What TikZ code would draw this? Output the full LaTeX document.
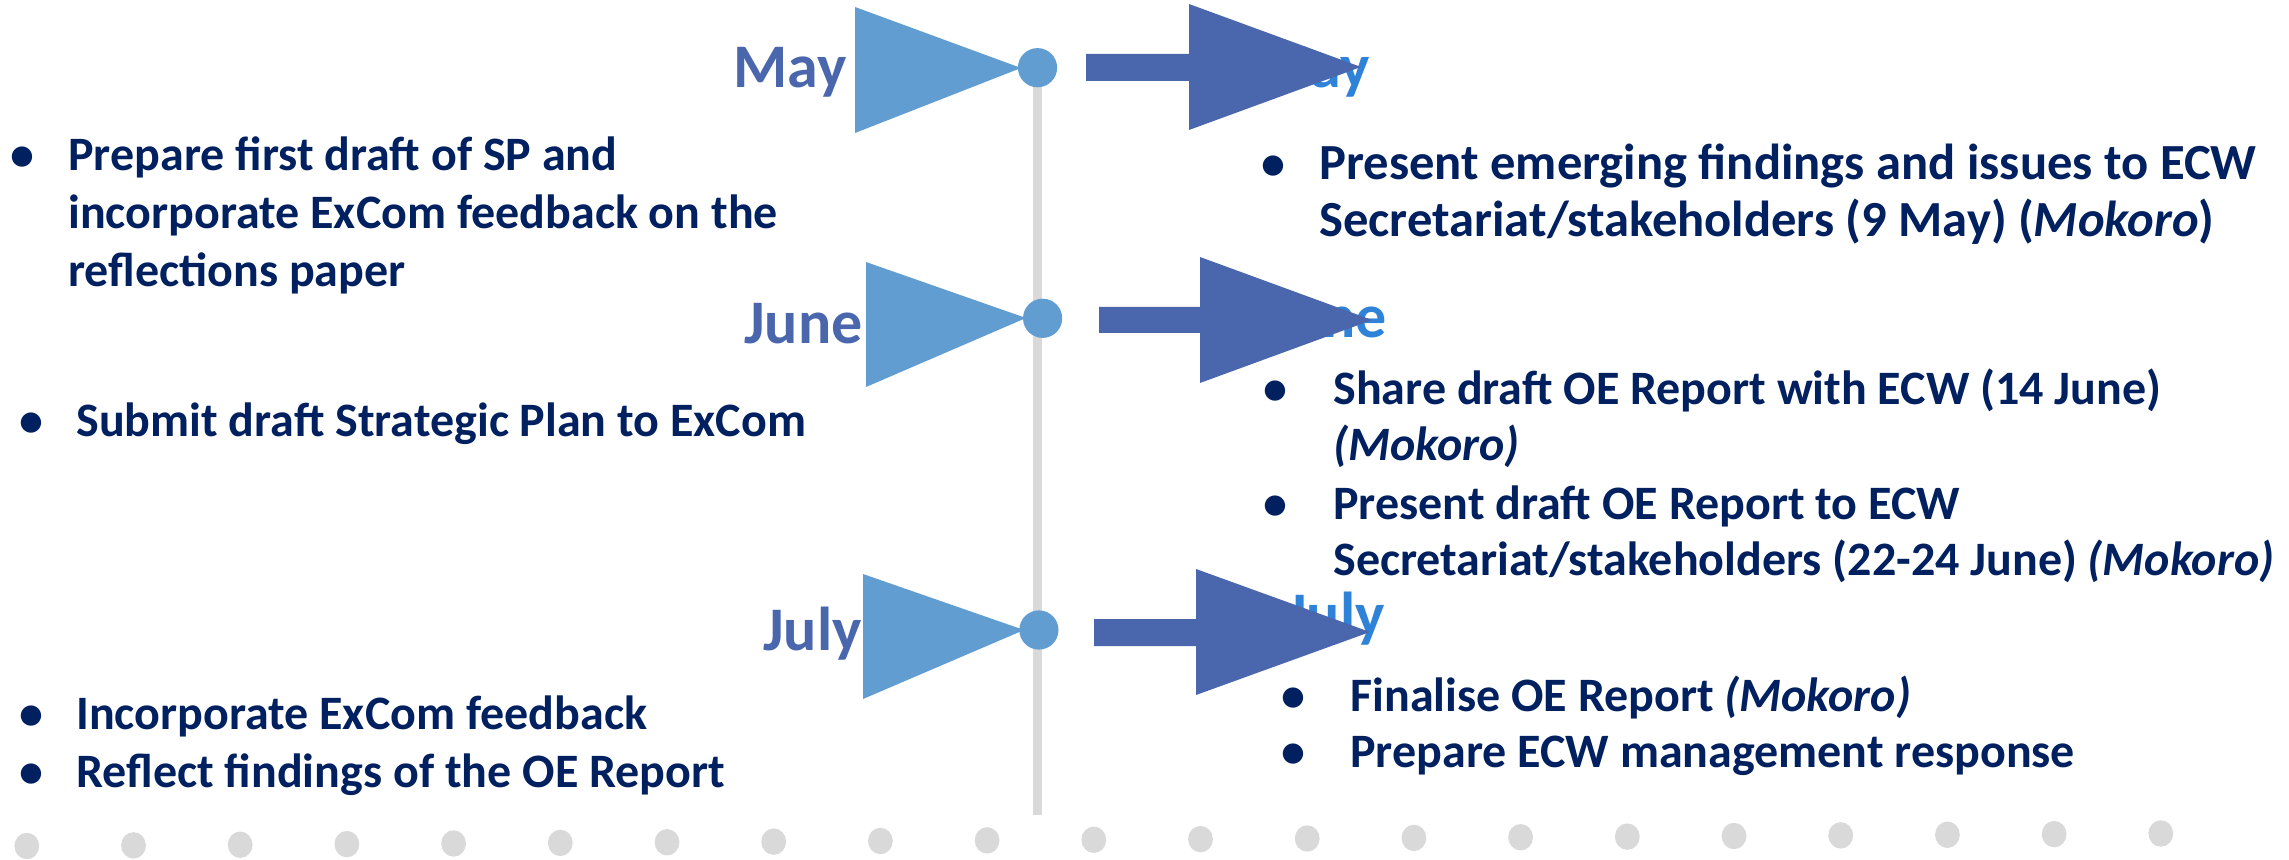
\documentclass[tikz,border=0pt]{standalone}
\usepackage{fontspec}
\setmainfont{Carlito}
\definecolor{navy}{RGB}{0,32,96}
\definecolor{darkblue}{RGB}{74,102,172}
\definecolor{lightblue}{RGB}{98,157,209}
\definecolor{brightblue}{RGB}{46,131,217}
\definecolor{dotgray}{RGB}{217,217,217}
\begin{document}
\begin{tikzpicture}[x=0.5pt,y=-0.5pt,
  txt/.style={anchor=base west, inner sep=0pt, text=navy, font=\fontsize{24}{29}\selectfont\bfseries},
  txtbig/.style={anchor=base west, inner sep=0pt, text=navy, font=\fontsize{25.3}{29}\selectfont\bfseries},
  bul/.style={anchor=base, inner sep=0pt, text=navy, font=\fontsize{24}{29}\selectfont\bfseries},
  monthL/.style={anchor=base east, inner sep=0pt, text=darkblue, font=\fontsize{31}{36}\selectfont\bfseries},
  monthR/.style={anchor=base east, inner sep=0pt, text=brightblue, font=\fontsize{31}{36}\selectfont\bfseries},
  tri/.style={fill=lightblue},
  blockarrow/.style={fill=darkblue},
  knob/.style={fill=lightblue},
  greydot/.style={fill=dotgray}]
\useasboundingbox (0,0) rectangle (2289,860);
\fill[white] (0,0) rectangle (2289,860);

% bottom dots
\foreach \i in {0,...,20}{
  \pgfmathsetmacro{\dx}{26.8+106.7*\i}
  \pgfmathsetmacro{\dy}{846-12.5*\i/20}
  \fill[greydot] (\dx,\dy) ellipse [x radius=6.2pt, y radius=6.6pt];
}

% vertical timeline
\fill[dotgray] (1033,68) rectangle (1042,815);

% right month labels (partly hidden by arrows)
\node[monthR] (mayR) at (1370,88) {May};
\node[monthR] (juneR) at (1387,338) {June};
\node[monthR] (julyR) at (1385,635) {July};

% left month labels
\node[monthL] (mayL) at (847,88) {May};
\node[monthL] (juneL) at (863,344) {June};
\node[monthL] (julyL) at (862,650) {July};

% triangles
\fill[tri] (855,7) -- (1021,68) -- (855,133) -- cycle;
\fill[tri] (866,262) -- (1026,318) -- (866,387) -- cycle;
\fill[tri] (863,574) -- (1024,630) -- (863,699) -- cycle;

% knobs
\fill[knob] (1037.5,67.7) circle (9.8pt);
\fill[knob] (1042.6,318.3) circle (9.8pt);
\fill[knob] (1038.9,630) circle (9.8pt);

% block arrows
\fill[blockarrow] (1086,54) -- (1189,54) -- (1189,4) -- (1361,67) -- (1189,130) -- (1189,81) -- (1086,81) -- cycle;
\fill[blockarrow] (1099,307) -- (1200,307) -- (1200,257) -- (1372,320) -- (1200,383) -- (1200,333) -- (1099,333) -- cycle;
\fill[blockarrow] (1094,619) -- (1196,619) -- (1196,569) -- (1370,632) -- (1196,695) -- (1196,646) -- (1094,646) -- cycle;

% left texts
\node[bul] (b1) at (22,171) {\textbullet};
\node[txt] (l1a) at (68,171) {Prepare first draft of SP and};
\node[txt] (l1b) at (68,229) {incorporate ExCom feedback on the};
\node[txt] (l1c) at (68,287) {reflections paper};
\node[bul] (b2) at (31,437) {\textbullet};
\node[txt] (l2) at (76,437) {Submit draft Strategic Plan to ExCom};
\node[bul] (b3) at (31,729) {\textbullet};
\node[txt] (l3) at (76,729) {Incorporate ExCom feedback};
\node[bul] (b4) at (31,787) {\textbullet};
\node[txt] (l4) at (76,787) {Reflect findings of the OE Report};

% right texts
\node[bul] (c1) at (1273,180) {\textbullet};
\node[txtbig] (r1a) at (1319,180) {Present emerging findings and issues to ECW};
\node[txtbig] (r1b) at (1319,237) {Secretariat/stakeholders (9 May) (\textit{Mokoro})};
\node[bul] (c2) at (1275,405) {\textbullet};
\node[txt] (r2a) at (1333,405) {Share draft OE Report with ECW (14 June)};
\node[txt] (r2b) at (1333,461) {\textit{(Mokoro)}};
\node[bul] (c3) at (1275,519) {\textbullet};
\node[txt] (r3a) at (1333,519) {Present draft OE Report to ECW};
\node[txt] (r3b) at (1333,575) {Secretariat/stakeholders (22-24 June) \textit{(Mokoro)}};
\node[bul] (c4) at (1293,711) {\textbullet};
\node[txt] (r4) at (1350,711) {Finalise OE Report \textit{(Mokoro)}};
\node[bul] (c5) at (1293,767) {\textbullet};
\node[txt] (r5) at (1350,767) {Prepare ECW management response};
\end{tikzpicture}
\end{document}
